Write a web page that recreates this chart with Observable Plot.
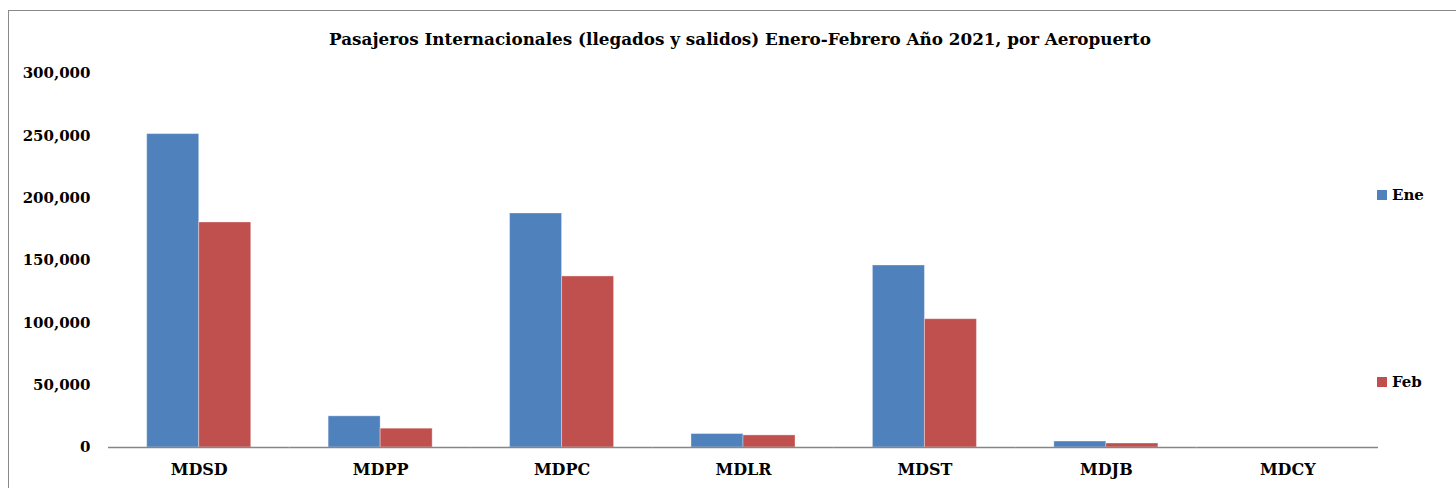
<!DOCTYPE html>
<html>
<head>
<meta charset="utf-8">
<script src="https://cdn.jsdelivr.net/npm/d3@7"></script>
<script src="https://cdn.jsdelivr.net/npm/@observablehq/plot@0.6"></script>
<style>
  html, body { margin: 0; padding: 0; background: #fff; overflow: hidden; }
  #wrap { position: relative; width: 1456px; height: 488px; overflow: hidden; font-family: "DejaVu Serif", serif; }
  #frame { position: absolute; left: 8px; top: 10px; width: 1500px; height: 600px; border: 1px solid #8a8a8a; pointer-events: none; }
  #title { height: 60px; box-sizing: border-box; padding-top: 30px; padding-left: 24px; text-align: center; font: bold 16.8px/18px "DejaVu Serif", serif; color: #000; white-space: nowrap; }
  .leg { position: absolute; display: flex; align-items: center; font: bold 15px "DejaVu Serif", serif; color: #000; }
  .leg span.sw { display: inline-block; width: 10px; height: 10px; margin-right: 5px; }
</style>
</head>
<body>
<div id="wrap">
  <div id="frame"></div>
  <div id="title">Pasajeros Internacionales (llegados y salidos) Enero-Febrero Año 2021, por Aeropuerto</div>
  <div id="chart"></div>
</div>
<script>
// Data
const airports = ["MDSD", "MDPP", "MDPC", "MDLR", "MDST", "MDJB", "MDCY"];
const months = ["Ene", "Feb"];
const ene = [251400, 25000, 187700, 10800, 146000, 4800, 0];
const feb = [180500, 15100, 137200, 9700, 102900, 3200, 0];
const yTicks = [0, 50000, 100000, 150000, 200000, 250000, 300000];
const colors = ["#4F81BD", "#C0504D"];

const rows = [];
airports.forEach((a, i) => {
  rows.push({airport: a, month: months[0], value: ene[i]});
  rows.push({airport: a, month: months[1], value: feb[i]});
});

const font = "'DejaVu Serif', serif";

const plot = Plot.plot({
  width: 1456,
  height: 428,
  marginTop: 13,
  marginBottom: 41,
  marginLeft: 108,
  marginRight: 78,
  style: {background: "transparent", fontFamily: font},
  fx: {domain: airports, padding: 0, label: null, round: false},
  x: {domain: months, paddingInner: 0, paddingOuter: 0.744, round: false, axis: null},
  y: {domain: [0, 300000], label: null},
  color: {domain: months, range: colors},
  marks: [
    Plot.barY(rows, {fx: "airport", x: "month", y: "value", fill: "month", stroke: "white", strokeOpacity: 0.35, strokeWidth: 1}),
    Plot.axisY({ticks: yTicks, tickFormat: d3.format(","), tickSize: 0, tickPadding: 18, label: null,
      fontSize: 15, fontWeight: "bold", fill: "#000"}),
    Plot.axisFx({anchor: "bottom", tickSize: 0, tickPadding: 16, label: null,
      fontSize: 16, fontWeight: "bold", fill: "#000"}),
    Plot.ruleX([0], {frameAnchor: "left", stroke: "#868686", strokeWidth: 1.5}),
    Plot.ruleY([0], {stroke: "#868686", strokeWidth: 1.5})
  ]
});
document.getElementById("chart").appendChild(plot);

// Legend (Excel-style, stacked on the right)
const legendTops = [195, 382];
months.forEach((m, i) => {
  const d = document.createElement("div");
  d.className = "leg";
  d.style.left = "1377px";
  d.style.top = (legendTops[i] - 10) + "px";
  d.style.height = "20px";
  d.innerHTML = `<span class="sw" style="background:${colors[i]}"></span>${m}`;
  document.getElementById("wrap").appendChild(d);
});
</script>
</body>
</html>
